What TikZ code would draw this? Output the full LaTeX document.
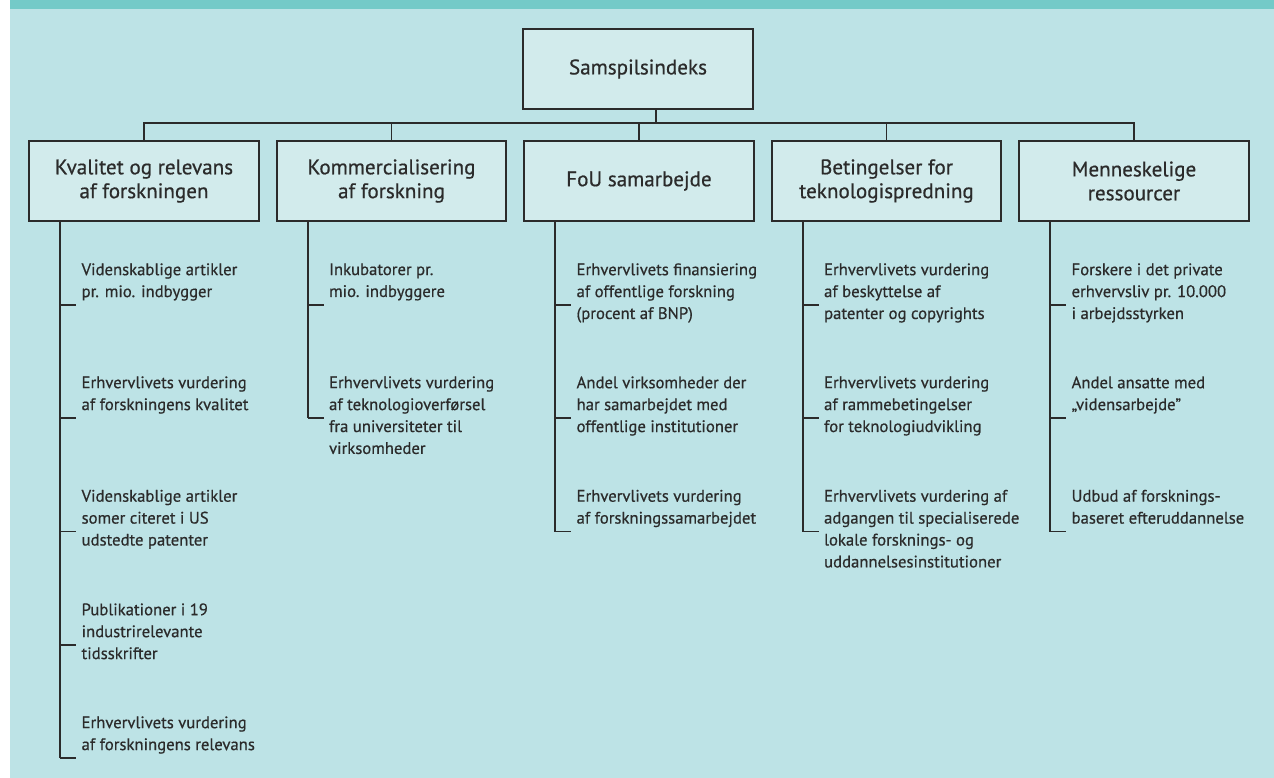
\documentclass[tikz,border=0pt]{standalone}
\usepackage{fontspec}
\setmainfont{PT Sans}[FakeBold=0.6]
\definecolor{topbar}{HTML}{74CAC8}
\definecolor{panel}{HTML}{BDE3E6}
\definecolor{boxfill}{HTML}{D2EBEC}
\definecolor{ink}{HTML}{2B2B2B}
\tikzset{
  mainbox/.style={draw=ink, fill=boxfill, line width=1.1pt, minimum width=4.59cm,
    minimum height=1.6cm, align=center, text=ink, font=\fontsize{12}{13.6}\selectfont},
  leaf/.style={anchor=north west, inner sep=0pt, align=left, text=ink,
    font=\fontsize{9.5}{12.47}\selectfont},
  wire/.style={draw=ink, line width=1.1pt}
}
\begin{document}
\begin{tikzpicture}
\useasboundingbox (0,0) rectangle (25.48,-15.56);
\fill[panel] (.2,0) rectangle (25.48,-15.56);
\fill[topbar] (.2,0) rectangle (25.48,-.18);
% top and the five groups
\node[mainbox] (root) at (12.76,-1.38) {Samspilsindeks};
\node[mainbox] (kval) at (2.88,-3.62) {Kvalitet og relevans\\af forskningen};
\node[mainbox] (komm) at (7.83,-3.62) {Kommercialisering\\af forskning};
\node[mainbox] (fou) at (12.78,-3.62) {FoU samarbejde};
\node[mainbox] (bet) at (17.73,-3.62) {Betingelser for\\teknologispredning};
\node[mainbox] (menn) at (22.68,-3.62) {Menneskelige\\ressourcer};
\coordinate (bus) at (0,-2.46);
\draw[wire] ([xshift=.36cm]root.south) -- ([xshift=.36cm]root.south |- bus);
\draw[wire] (kval.north) |- (bus -| menn.north) -- (menn.north);
\foreach \g in {komm,fou,bet}
  \draw[wire] (\g.north) -- (\g.north |- bus);
% Kvalitet og relevans
\coordinate (k1) at (1.205,-6.1);
\coordinate (k2) at (1.205,-8.36);
\coordinate (k3) at (1.205,-10.63);
\coordinate (k4) at (1.205,-12.9);
\coordinate (k5) at (1.205,-15.16);
\node[leaf] (k1t) at (1.625,-5.26) {Videnskablige artikler\\pr. mio. indbygger};
\node[leaf] (k2t) at (1.625,-7.52) {Erhvervlivets vurdering\\af forskningens kvalitet};
\node[leaf] (k3t) at (1.625,-9.79) {Videnskablige artikler\\somer citeret i US\\udstedte patenter};
\node[leaf] (k4t) at (1.625,-12.06) {Publikationer i 19\\industrirelevante\\tidsskrifter};
\node[leaf] (k5t) at (1.625,-14.32) {Erhvervlivets vurdering\\af forskningens relevans};
\draw[wire] (kval.south -| k1) -- (k5);
\foreach \t in {k1,k2,k3,k4,k5}
  \draw[wire] (\t) -- ++(.32,0);
% Kommercialisering
\coordinate (c1) at (6.155,-6.1);
\coordinate (c2) at (6.155,-8.36);
\node[leaf] (c1t) at (6.575,-5.26) {Inkubatorer pr.\\mio. indbyggere};
\node[leaf] (c2t) at (6.575,-7.52) {Erhvervlivets vurdering\\af teknologioverførsel\\fra universiteter til\\virksomheder};
\draw[wire] (komm.south -| c1) -- (c2);
\foreach \t in {c1,c2}
  \draw[wire] (\t) -- ++(.32,0);
% FoU samarbejde
\coordinate (f1) at (11.105,-6.1);
\coordinate (f2) at (11.105,-8.36);
\coordinate (f3) at (11.105,-10.63);
\node[leaf] (f1t) at (11.525,-5.26) {Erhvervlivets finansiering\\af offentlige forskning\\(procent af BNP)};
\node[leaf] (f2t) at (11.525,-7.52) {Andel virksomheder der\\har samarbejdet med\\offentlige institutioner};
\node[leaf] (f3t) at (11.525,-9.79) {Erhvervlivets vurdering\\af forskningssamarbejdet};
\draw[wire] (fou.south -| f1) -- (f3);
\foreach \t in {f1,f2,f3}
  \draw[wire] (\t) -- ++(.32,0);
% Betingelser
\coordinate (b1) at (16.055,-6.1);
\coordinate (b2) at (16.055,-8.36);
\coordinate (b3) at (16.055,-10.63);
\node[leaf] (b1t) at (16.475,-5.26) {Erhvervlivets vurdering\\af beskyttelse af\\patenter og copyrights};
\node[leaf] (b2t) at (16.475,-7.52) {Erhvervlivets vurdering\\af rammebetingelser\\for teknologiudvikling};
\node[leaf] (b3t) at (16.475,-9.79) {Erhvervlivets vurdering af\\adgangen til specialiserede\\lokale forsknings- og\\uddannelsesinstitutioner};
\draw[wire] (bet.south -| b1) -- (b3);
\foreach \t in {b1,b2,b3}
  \draw[wire] (\t) -- ++(.32,0);
% Menneskelige ressourcer
\coordinate (m1) at (21.005,-6.1);
\coordinate (m2) at (21.005,-8.36);
\coordinate (m3) at (21.005,-10.63);
\node[leaf] (m1t) at (21.425,-5.26) {Forskere i det private\\erhvervsliv pr. 10.000\\i arbejdsstyrken};
\node[leaf] (m2t) at (21.425,-7.52) {Andel ansatte med\\„vidensarbejde"};
\node[leaf] (m3t) at (21.425,-9.79) {Udbud af forsknings-\\baseret efteruddannelse};
\draw[wire] (menn.south -| m1) -- (m3);
\foreach \t in {m1,m2,m3}
  \draw[wire] (\t) -- ++(.32,0);
\end{tikzpicture}
\end{document}
